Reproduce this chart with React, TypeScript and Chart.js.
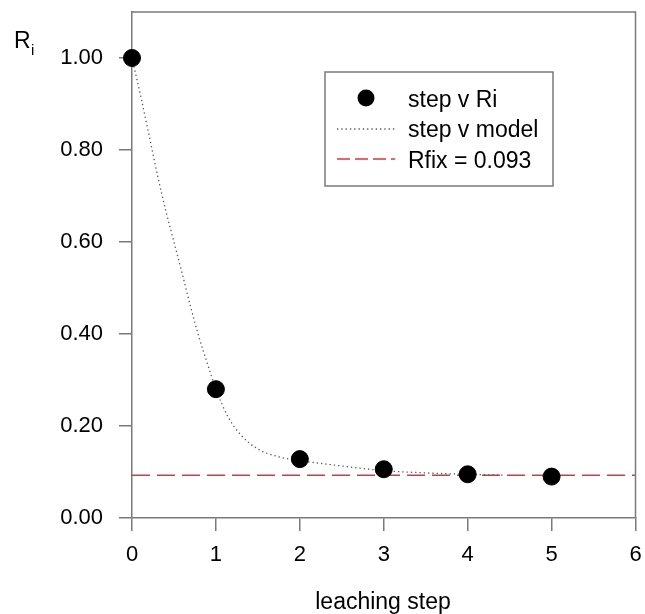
import React, { useEffect, useRef } from "react";
import { Chart, registerables } from "chart.js";

Chart.register(...registerables);

const stepX = [0, 1, 2, 3, 4, 5];
const ri = [1.0, 0.28, 0.128, 0.106, 0.095, 0.09];

const modelX = [0, 0.1, 0.2, 0.3, 0.4, 0.5, 0.6, 0.7, 0.8, 0.9, 1.0, 1.15, 1.3, 1.5, 1.75, 2.0, 2.5, 3.0, 3.5, 4.0, 4.44];
const modelY = [1.0, 0.92, 0.835, 0.748, 0.67, 0.6, 0.53, 0.458, 0.392, 0.335, 0.28, 0.218, 0.18, 0.15, 0.133, 0.125, 0.113, 0.103, 0.098, 0.095, 0.093];

const rfix = 0.093;
const rfixX = [0, 6];

const yTicks = [0, 0.2, 0.4, 0.6, 0.8, 1.0];
const xTicks = [0, 1, 2, 3, 4, 5, 6];

const legendLabels = ["step v Ri", "step v model", "Rfix = 0.093"];
const xTitle = "leaching step";

const FONT = "'Liberation Sans', Arial, Helvetica, sans-serif";
const FRAME = "#7a7a7a";
const RED = "#e0343a";

const overlayPlugin = {
  id: "overlay",
  afterDraw(chart: any) {
    const ctx = chart.ctx as CanvasRenderingContext2D;
    const a = chart.chartArea;
    ctx.save();
    ctx.strokeStyle = FRAME;
    ctx.lineWidth = 1.5;
    ctx.beginPath();
    ctx.moveTo(a.left, a.top);
    ctx.lineTo(a.right, a.top);
    ctx.lineTo(a.right, a.bottom);
    ctx.stroke();

    ctx.fillStyle = "#000";
    ctx.textBaseline = "alphabetic";
    ctx.textAlign = "left";
    ctx.font = `23px ${FONT}`;
    ctx.fillText("R", 14, 48);
    ctx.font = `15px ${FONT}`;
    ctx.fillText("i", 31, 55);

    ctx.font = `23px ${FONT}`;
    ctx.textAlign = "center";
    ctx.fillText(xTitle, 383, 609);

    const bx = 325, by = 72, bw = 228, bh = 114;
    ctx.strokeStyle = FRAME;
    ctx.lineWidth = 1.5;
    ctx.strokeRect(bx, by, bw, bh);
    ctx.textAlign = "left";
    const baselines = [107, 137, 168];
    const mids = [98, 129, 159];
    ctx.beginPath();
    ctx.arc(366, mids[0], 8.5, 0, Math.PI * 2);
    ctx.fillStyle = "#000";
    ctx.fill();
    ctx.strokeStyle = "#555";
    ctx.lineWidth = 1.3;
    ctx.setLineDash([1.3, 3]);
    ctx.beginPath();
    ctx.moveTo(337, mids[1]);
    ctx.lineTo(395, mids[1]);
    ctx.stroke();
    ctx.strokeStyle = RED;
    ctx.lineWidth = 1.5;
    ctx.setLineDash([13, 5]);
    ctx.beginPath();
    ctx.moveTo(337, mids[2]);
    ctx.lineTo(395, mids[2]);
    ctx.stroke();
    ctx.setLineDash([]);
    ctx.fillStyle = "#000";
    ctx.font = `23px ${FONT}`;
    legendLabels.forEach((t, i) => ctx.fillText(t, 408, baselines[i]));
    ctx.restore();
  },
};

export default function App() {
  const ref = useRef<HTMLCanvasElement>(null);
  useEffect(() => {
    if (!ref.current) return;
    const chart = new Chart(ref.current, {
      type: "scatter",
      data: {
        datasets: [
          {
            label: legendLabels[0],
            data: stepX.map((x, i) => ({ x, y: ri[i] })),
            backgroundColor: "#000",
            borderColor: "#000",
            pointRadius: 8.5,
            pointHoverRadius: 8.5,
            showLine: false,
            clip: false as any,
          },
          {
            label: legendLabels[1],
            type: "line" as any,
            data: modelX.map((x, i) => ({ x, y: modelY[i] })),
            borderColor: "#555",
            borderWidth: 1.3,
            borderDash: [1.3, 3],
            pointRadius: 0,
            fill: false,
            cubicInterpolationMode: "monotone",
            showLine: true,
            clip: false as any,
          },
          {
            label: legendLabels[2],
            type: "line" as any,
            data: rfixX.map((x) => ({ x, y: rfix })),
            borderColor: RED,
            borderWidth: 1.5,
            borderDash: [18, 7],
            pointRadius: 0,
            fill: false,
            showLine: true,
          },
        ],
      },
      options: {
        responsive: false,
        animation: false,
        events: [],
        layout: { padding: { top: 12, right: 6, left: 0, bottom: 0 } },
        plugins: { legend: { display: false }, tooltip: { enabled: false } },
        scales: {
          x: {
            type: "linear",
            min: 0,
            max: 6,
            afterFit: (s: any) => {
              s.height = 96;
              s.paddingLeft = 0;
              s.paddingRight = 0;
            },
            afterBuildTicks: (s: any) => {
              s.ticks = xTicks.map((v) => ({ value: v }));
            },
            ticks: {
              font: { family: FONT, size: 22 },
              color: "#000",
              padding: 11,
              maxRotation: 0,
              callback: (v: any) => String(v),
            },
            grid: {
              display: true,
              drawOnChartArea: false,
              drawTicks: true,
              tickLength: 13,
              color: FRAME,
              lineWidth: 1.5,
            },
            border: { display: true, color: FRAME, width: 1.5 },
          },
          y: {
            type: "linear",
            min: 0,
            max: 1.1,
            afterFit: (s: any) => {
              s.width = 132;
              s.paddingTop = 0;
              s.paddingBottom = 0;
            },
            afterBuildTicks: (s: any) => {
              s.ticks = yTicks.map((v) => ({ value: v }));
            },
            ticks: {
              font: { family: FONT, size: 22 },
              color: "#000",
              padding: 16,
              callback: (v: any) => Number(v).toFixed(2),
            },
            grid: {
              display: true,
              drawOnChartArea: false,
              drawTicks: true,
              tickLength: 13,
              color: FRAME,
              lineWidth: 1.5,
            },
            border: { display: true, color: FRAME, width: 1.5 },
          },
        },
      },
      plugins: [overlayPlugin],
    });
    return () => chart.destroy();
  }, []);
  return (
    <div style={{ position: "absolute", left: 0, top: 0, width: 645, height: 614, background: "#fff" }}>
      <canvas ref={ref} width={645} height={614} style={{ width: 645, height: 614 }} />
    </div>
  );
}
